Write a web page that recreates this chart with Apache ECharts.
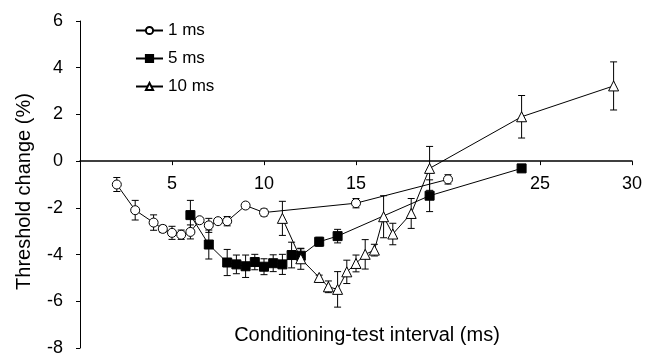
<!DOCTYPE html>
<html>
<head>
<meta charset="utf-8">
<script src="https://cdn.jsdelivr.net/npm/echarts@6/dist/echarts.min.js"></script>
<style>
  html, body { margin: 0; padding: 0; background: #fff; }
  #chart { width: 646px; height: 354px; }
</style>
</head>
<body>
<div id="chart"></div>
<script>
// conditioning-test interval (ms) and threshold change (%) for each conditioning duration
const x1 = [2, 3, 4, 4.5, 5, 5.5, 6, 6.5, 7, 7.5, 8, 9, 10, 15, 20];
const y1 = [-1.0, -2.1, -2.63, -2.9, -3.07, -3.15, -3.03, -2.53, -2.75, -2.57, -2.57, -1.9, -2.2, -1.8, -0.78];
const e1 = [0.3, 0.42, 0.33, 0.15, 0.28, 0.2, 0.3, 0.1, 0.3, 0.1, 0.2, 0.12, 0.15, 0.2, 0.2];

const x5 = [6, 7, 8, 8.5, 9, 9.5, 10, 10.5, 11, 11.5, 12, 13, 14, 19, 24];
const y5 = [-2.31, -3.57, -4.34, -4.42, -4.5, -4.32, -4.52, -4.37, -4.42, -4.02, -4.05, -3.45, -3.21, -1.48, -0.31];
const e5 = [0.63, 0.62, 0.56, 0.4, 0.48, 0.33, 0.34, 0.36, 0.43, 0.55, 0.3, 0.19, 0.29, 0.68, 0.13];

const x10 = [11, 12, 13, 13.5, 14, 14.5, 15, 15.5, 16, 16.5, 17, 18, 19, 24, 29];
const y10 = [-2.45, -4.18, -4.98, -5.38, -5.49, -4.74, -4.38, -3.99, -3.81, -2.38, -3.12, -2.24, -0.31, 1.9, 3.22];
const e10 = [0.73, 0.45, 0.1, 0.25, 0.76, 0.5, 0.36, 0.63, 0.25, 0.9, 0.46, 0.64, 0.94, 0.91, 1.03];

const xTicks = [5, 10, 15, 25, 30];
const font = 'Liberation Sans, Arial, Helvetica, sans-serif';

const pairs = (xs, ys) => xs.map((x, i) => [x, ys[i]]);

function errorBars(xs, ys, errs) {
    return {
        type: 'custom',
        silent: true,
        z: 1,
        data: xs.map((x, i) => [x, ys[i] - errs[i], ys[i] + errs[i]]),
        renderItem(params, api) {
            const lo = api.coord([api.value(0), api.value(1)]);
            const hi = api.coord([api.value(0), api.value(2)]);
            const w = 3.5;
            const style = { stroke: '#000', lineWidth: 1 };
            return {
                type: 'group',
                children: [
                    { type: 'line', shape: { x1: lo[0], y1: lo[1], x2: hi[0], y2: hi[1] }, style },
                    { type: 'line', shape: { x1: lo[0] - w, y1: lo[1], x2: lo[0] + w, y2: lo[1] }, style },
                    { type: 'line', shape: { x1: hi[0] - w, y1: hi[1], x2: hi[0] + w, y2: hi[1] }, style },
                ],
            };
        },
    };
}

function lineSeries(name, data, symbol, size, fill) {
    return {
        name,
        type: 'line',
        data,
        symbol,
        symbolSize: size,
        z: 3,
        lineStyle: { color: '#000', width: 1 },
        itemStyle: { color: fill, borderColor: '#000', borderWidth: 1 },
        emphasis: { disabled: true },
        animation: false,
    };
}

// the x axis sits on y = 0: shift it up from the grid bottom by the height of 8 units
const gridTop = 21, gridBottom = 6, chartHeight = 354;
const zeroShift = (chartHeight - gridTop - gridBottom) * 8 / 14;

const chart = echarts.init(document.getElementById('chart'));
chart.setOption({
    animation: false,
    textStyle: { fontFamily: font },
    grid: { left: 80, right: 14, top: gridTop, bottom: gridBottom, containLabel: false, outerBoundsMode: 'none' },
    legend: {
        data: ['1 ms', '5 ms', '10 ms'],
        orient: 'vertical',
        left: 130,
        top: 17,
        itemWidth: 27,
        itemHeight: 9,
        itemGap: 11,
        textStyle: { fontSize: 17, lineHeight: 17, color: '#000', fontFamily: font },
    },
    xAxis: {
        type: 'value',
        min: 0,
        max: 30,
        offset: -zeroShift,
        name: 'Conditioning-test interval (ms)',
        nameLocation: 'middle',
        nameGap: 164,
        nameTextStyle: { fontSize: 20, color: '#000', padding: [0, 0, 0, 22] },
        axisLine: { onZero: false, lineStyle: { color: '#000', width: 1.5 } },
        axisTick: { show: true, length: 4, customValues: xTicks, lineStyle: { color: '#000' } },
        axisLabel: { customValues: xTicks, fontSize: 18, color: '#000', margin: 14 },
        splitLine: { show: false },
    },
    yAxis: {
        type: 'value',
        min: -8,
        max: 6,
        interval: 2,
        name: 'Threshold change (%)',
        nameLocation: 'middle',
        nameGap: 46,
        nameTextStyle: { fontSize: 20, color: '#000', padding: [0, 14, 0, 0] },
        axisLine: { show: true, onZero: false, lineStyle: { color: '#000', width: 1 } },
        axisTick: { show: true, length: 4, lineStyle: { color: '#000' } },
        axisLabel: { fontSize: 18, color: '#000', margin: 17 },
        splitLine: { show: false },
    },
    series: [
        errorBars(x1, y1, e1),
        errorBars(x5, y5, e5),
        errorBars(x10, y10, e10),
        lineSeries('1 ms', pairs(x1, y1), 'circle', 9, '#fff'),
        lineSeries('5 ms', pairs(x5, y5), 'rect', 9, '#000'),
        lineSeries('10 ms', pairs(x10, y10), 'triangle', 10, '#fff'),
    ],
});
</script>
</body>
</html>
